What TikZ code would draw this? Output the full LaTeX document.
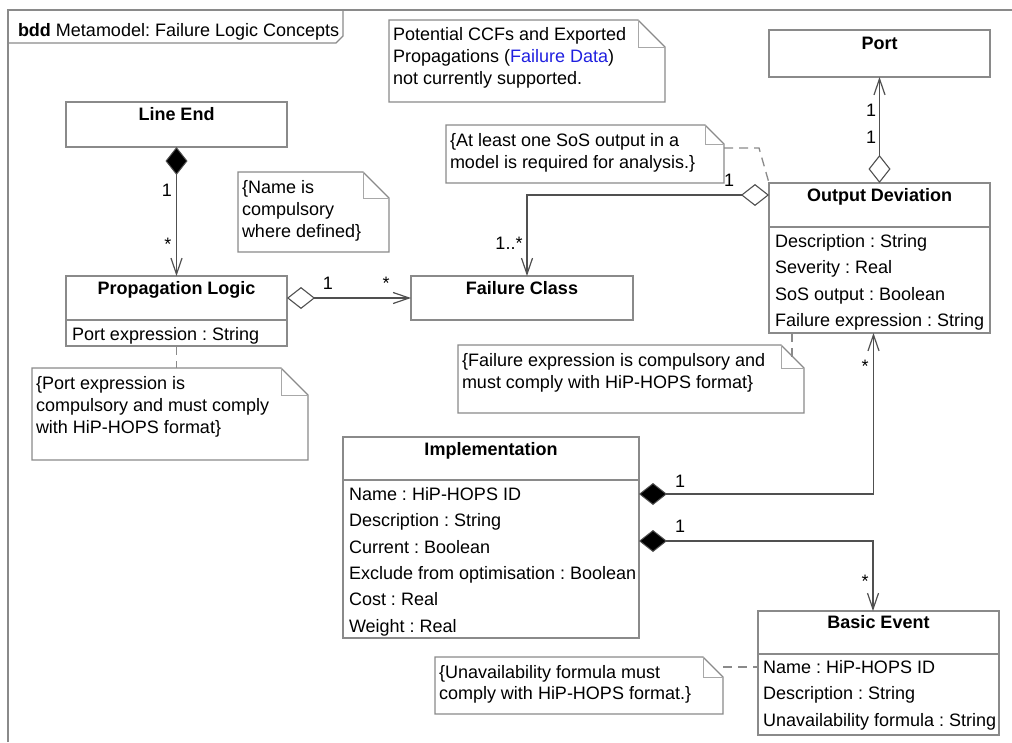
\documentclass[tikz,border=0pt]{standalone}
\usepackage{fontspec}
\setmainfont{Liberation Sans}
\usetikzlibrary{arrows.meta}
\frenchspacing

\definecolor{boxGray}{HTML}{8A8A8A}
\definecolor{foldGray}{HTML}{A8A8A8}
\definecolor{connGray}{HTML}{505050}
\definecolor{linkBlue}{HTML}{2020E0}

% note: name, x, y (top left), width, height, fold size
\newcommand\umlnote[6]{%
  \node[noteshape, minimum width=#4pt, minimum height=#5pt] (#1) at (#2,#3) {};
  \draw[noteline] (#1.north west) -- ([xshift=-#6pt]#1.north east)
    -- ([yshift=-#6pt]#1.north east) -- (#1.south east) -- (#1.south west) -- cycle;
  \draw[foldline] ([xshift=-#6pt]#1.north east) -- ([xshift=-#6pt,yshift=-#6pt]#1.north east)
    -- ([yshift=-#6pt]#1.north east);
}

\begin{document}
\begin{tikzpicture}[x=1pt,y=-1pt,
  every node/.style={inner sep=0pt, outer sep=0pt, font=\fontsize{18}{22}\selectfont},
  classbox/.style={draw=boxGray, line width=1.2pt, fill=white, anchor=north west},
  noteshape/.style={anchor=north west},
  noteline/.style={draw=boxGray, line width=1.2pt, fill=white},
  foldline/.style={draw=foldGray, line width=1pt},
  divline/.style={draw=boxGray, line width=1.2pt},
  frameline/.style={draw=boxGray, line width=1.4pt},
  ttl/.style={anchor=base, font=\fontsize{18}{22}\selectfont\bfseries},
  attr/.style={anchor=base west},
  notetxt/.style={anchor=base west},
  mult/.style={anchor=base, font=\fontsize{18}{21}\selectfont},
  conn/.style={draw=connGray, line width=1.5pt},
  anchorline/.style={draw=boxGray, line width=1.3pt, dash pattern=on 9pt off 6pt},
  vtip/.tip={Straight Barb[length=16pt,width=11pt,line width=1.2pt]},
  odia/.tip={Diamond[length=28pt,width=22pt,line width=1.1pt,fill=white]},
  fdia/.tip={Diamond[length=28pt,width=22pt,line width=1pt,fill=black]}
]
\useasboundingbox (0,0) rectangle (1012,742);

% diagram frame and its name tab
\draw[frameline] (8,742) -- (8,10) -- (1012,10);
\draw[frameline] (8,43) -- (336,43) -- (343,36) -- (343,10);
\node[anchor=base west] (frametitle) at (18,36) {\textbf{bdd} Metamodel: Failure Logic Concepts};

% ---- blocks ----
\node[classbox, minimum width=221pt, minimum height=45pt] (le) at (66,102) {};
\node[ttl] (leT) at ([yshift=-18pt]le.north) {Line End};

\node[classbox, minimum width=221pt, minimum height=70pt] (pl) at (66,276) {};
\node[ttl] (plT) at ([yshift=-18pt]pl.north) {Propagation Logic};
\draw[divline] (pl.west |- 0,320) -- (pl.east |- 0,320);
\node[attr] (plA) at (72,340) {Port expression : String};

\node[classbox, minimum width=222pt, minimum height=44pt] (fc) at (411,276) {};
\node[ttl] (fcT) at ([yshift=-18pt]fc.north) {Failure Class};

\node[classbox, minimum width=221pt, minimum height=47pt] (port) at (769,30) {};
\node[ttl] (portT) at ([yshift=-19.5pt]port.north) {Port};

\node[classbox, minimum width=221pt, minimum height=150pt] (od) at (769,183) {};
\node[ttl] (odT) at ([yshift=-18pt]od.north) {Output Deviation};
\draw[divline] (od.west |- 0,227) -- (od.east |- 0,227);
\foreach \t [count=\i from 0] in {Description : String, Severity : Real,
    SoS output : Boolean, Failure expression : String}
  \node[attr] (odA\i) at (775,{247.5+26.3*\i}) {\t};

\node[classbox, minimum width=296pt, minimum height=201pt] (impl) at (343,437) {};
\node[ttl] (implT) at ([yshift=-18pt]impl.north) {Implementation};
\draw[divline] (impl.west |- 0,480) -- (impl.east |- 0,480);
\foreach \t [count=\i from 0] in {Name : HiP-HOPS ID, Description : String,
    Current : Boolean, Exclude from optimisation : Boolean, Cost : Real, Weight : Real}
  \node[attr] (implA\i) at (349,{500.5+26.3*\i}) {\t};

\node[classbox, minimum width=241pt, minimum height=124pt] (be) at (758,611) {};
\node[ttl] (beT) at ([yshift=-17pt]be.north) {Basic Event};
\draw[divline] (be.west |- 0,654) -- (be.east |- 0,654);
\foreach \t [count=\i from 0] in {Name : HiP-HOPS ID, Description : String,
    Unavailability formula : String}
  \node[attr] (beA\i) at (763,{673.5+26.3*\i}) {\t};

% ---- notes ----
\umlnote{nccf}{389}{20}{276}{82}{27}
\node[notetxt] (nccf1) at (393,40) {Potential CCFs and Exported};
\node[notetxt] (nccf2) at (393,62) {Propagations (\textcolor{linkBlue}{Failure Data})};
\node[notetxt] (nccf3) at (393,84) {not currently supported.};

\umlnote{nname}{238}{172}{151}{80}{26}
\node[notetxt] (nname1) at (242,193) {\{Name is};
\node[notetxt] (nname2) at (242,215) {compulsory};
\node[notetxt] (nname3) at (242,237) {where defined\}};

\umlnote{nport}{32}{368}{276}{92}{27}
\node[notetxt] (nport1) at (36,389) {\{Port expression is};
\node[notetxt] (nport2) at (36,411) {compulsory and must comply};
\node[notetxt] (nport3) at (36,433) {with HiP-HOPS format\}};

\umlnote{nsos}{446}{125}{278}{58}{19}
\node[notetxt] (nsos1) at (450,146) {\{At least one SoS output in a};
\node[notetxt] (nsos2) at (450,168) {model is required for analysis.\}};

\umlnote{nfx}{458}{345}{346}{68}{23}
\node[notetxt] (nfx1) at (462,366) {\{Failure expression is compulsory and};
\node[notetxt] (nfx2) at (462,388) {must comply with HiP-HOPS format\}};

\umlnote{nun}{435}{657}{288}{57}{20}
\node[notetxt] (nun1) at (439,678) {\{Unavailability formula must};
\node[notetxt] (nun2) at (439,699) {comply with HiP-HOPS format.\}};

% ---- note anchors ----
\draw[anchorline] (pl.south) -- (pl.south |- nport.north);
\draw[anchorline] ([yshift=-23pt]nsos.north east) -- ++(35,0) -- (od.north west);
\draw[anchorline] ([xshift=23pt]od.south west) -- ++(0,24);
\draw[anchorline] ([yshift=-10pt]nun.north east) -- ([yshift=-10pt]nun.north east -| be.west);

% ---- associations ----
\draw[conn, fdia-vtip] (le.south) -- (pl.north);
\node[mult] (m1a) at (167,196) {1};
\node[mult] (m1b) at (168,250) {*};

\draw[conn, odia-vtip] (pl.east |- fc.west) -- (fc.west);
\node[mult] (m2a) at (328,289) {1};
\node[mult] (m2b) at (386,289) {*};

\draw[conn, odia-vtip] (od.north) -- (port.south);
\node[mult] (m3a) at (871,116) {1};
\node[mult] (m3b) at (871,143) {1};

\draw[conn, odia-vtip] ([yshift=-12pt]od.north west) -| ([xshift=5pt]fc.north);
\node[mult] (m4a) at (729,186) {1};
\node[mult] (m4b) at (509,249) {1..*};

\draw[conn, fdia-vtip] ([yshift=-57pt]impl.north east) -| ([xshift=-6pt]od.south);
\node[mult] (m5a) at (680,487) {1};
\node[mult] (m5b) at (865,372) {*};

\draw[conn, fdia-vtip] ([yshift=-104pt]impl.north east) -| ([xshift=-5.5pt]be.north);
\node[mult] (m6a) at (680,532) {1};
\node[mult] (m6b) at (865,587) {*};

\end{tikzpicture}
\end{document}
